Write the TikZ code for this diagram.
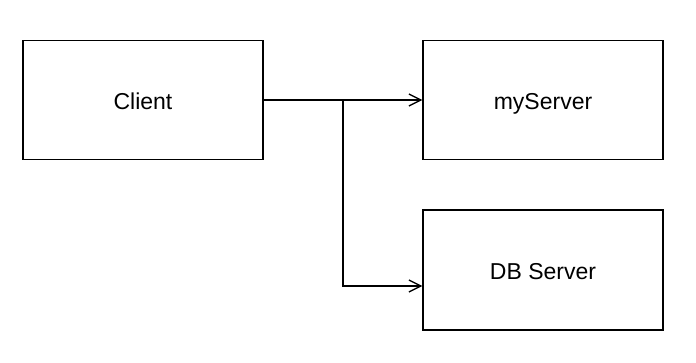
\documentclass[tikz,border=0pt]{standalone}
\usepackage{fontspec}
\setmainfont{Liberation Sans}
\usetikzlibrary{arrows.meta, positioning}

\tikzset{
  srvbox/.style={draw=black, line width=1.3pt, minimum width=240pt, minimum height=119pt,
    text height=18.6pt, text depth=0pt, font=\fontsize{23}{27}\selectfont},
  link/.style={line width=1.3pt, -{Straight Barb[length=12pt, width=12pt, line width=1.3pt]}},
}

\begin{document}
\begin{tikzpicture}[x=1pt, y=-1pt]
  \useasboundingbox (0,0) rectangle (696,362);

  % boxes
  \node[srvbox] (client) at (143,100) {Client};
  \node[srvbox] (myserver) at (543,100) {myServer};
  \node[srvbox, minimum height=120pt] (dbserver) at (543,270) {DB Server};

  % connectors
  \coordinate (split) at (343,100);
  \coordinate (dbin) at ([yshift=-16pt]dbserver.west);
  \draw[link] (client.east) -- (myserver.west);
  \draw[link] (split) |- (dbin);
\end{tikzpicture}
\end{document}
